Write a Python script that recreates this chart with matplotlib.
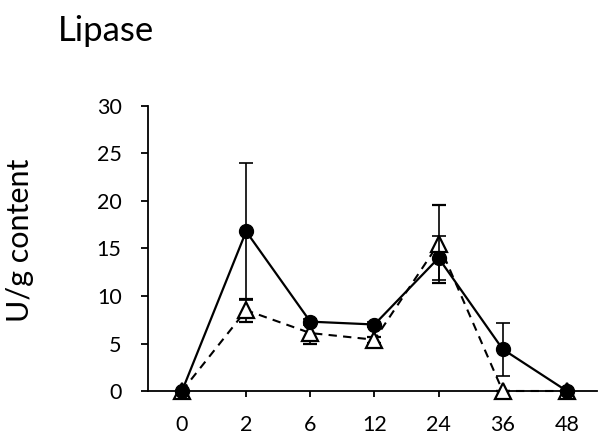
import matplotlib
matplotlib.use("Agg")
import matplotlib.pyplot as plt
import numpy as np

categories = ["0", "2", "6", "12", "24", "36", "48"]
solid_vals = [0, 16.8, 7.3, 7.0, 14.0, 4.4, 0]
solid_err = [0, 7.2, 0.3, 0.3, 2.3, 2.8, 0]
open_vals = [0, 8.5, 6.1, 5.4, 15.5, 0, 0]
open_err = [0, 1.2, 1.1, 0.3, 4.1, 0, 0]
yticks = [0, 5, 10, 15, 20, 25, 30]

plt.rcParams['font.family'] = ['Lato', 'DejaVu Sans']

fig = plt.figure(figsize=(6.04, 4.38), dpi=100)
ax = fig.add_axes([148/604, 1-391/438, (597-148)/604, (391-106)/438])
x = np.arange(len(categories))

ax.errorbar(x, open_vals, yerr=open_err, color='black', linestyle=(0, (4, 3)), lw=1.5,
            marker='^', markersize=12, markerfacecolor='white', markeredgecolor='black',
            markeredgewidth=1.6, ecolor='black', elinewidth=1.2, capsize=5, capthick=1.2, zorder=3)
ax.errorbar(x, solid_vals, yerr=solid_err, color='black', linestyle='-', lw=1.6,
            marker='o', markersize=10, markerfacecolor='black', markeredgecolor='black',
            ecolor='black', elinewidth=1.2, capsize=5, capthick=1.2, zorder=4)

ax.set_xlim(-0.53, 6.47)
ax.set_ylim(0, 30)
ax.set_xticks(x)
ax.set_xticklabels(categories, fontsize=15.5)
ax.set_yticks(yticks)
ax.set_yticklabels([str(v) for v in yticks], fontsize=15.5)
for s in ['top', 'right']:
    ax.spines[s].set_visible(False)
for s in ['left', 'bottom']:
    ax.spines[s].set_linewidth(1.3)
    ax.spines[s].set_clip_on(False)
ax.tick_params(axis='y', direction='out', length=5, width=1.3, pad=14)
ax.tick_params(axis='x', direction='out', length=4, width=1.3, pad=13)
for line in ax.get_lines():
    line.set_clip_on(False)

ax.set_ylabel("U/g content", fontsize=22)
ax.yaxis.set_label_coords((34 - 148) / 449, (391 - 240) / 285)
fig.text(58/604, 1-31/438, "Lipase", fontsize=25, va='center', ha='left')

fig.savefig("out.png", dpi=100)
